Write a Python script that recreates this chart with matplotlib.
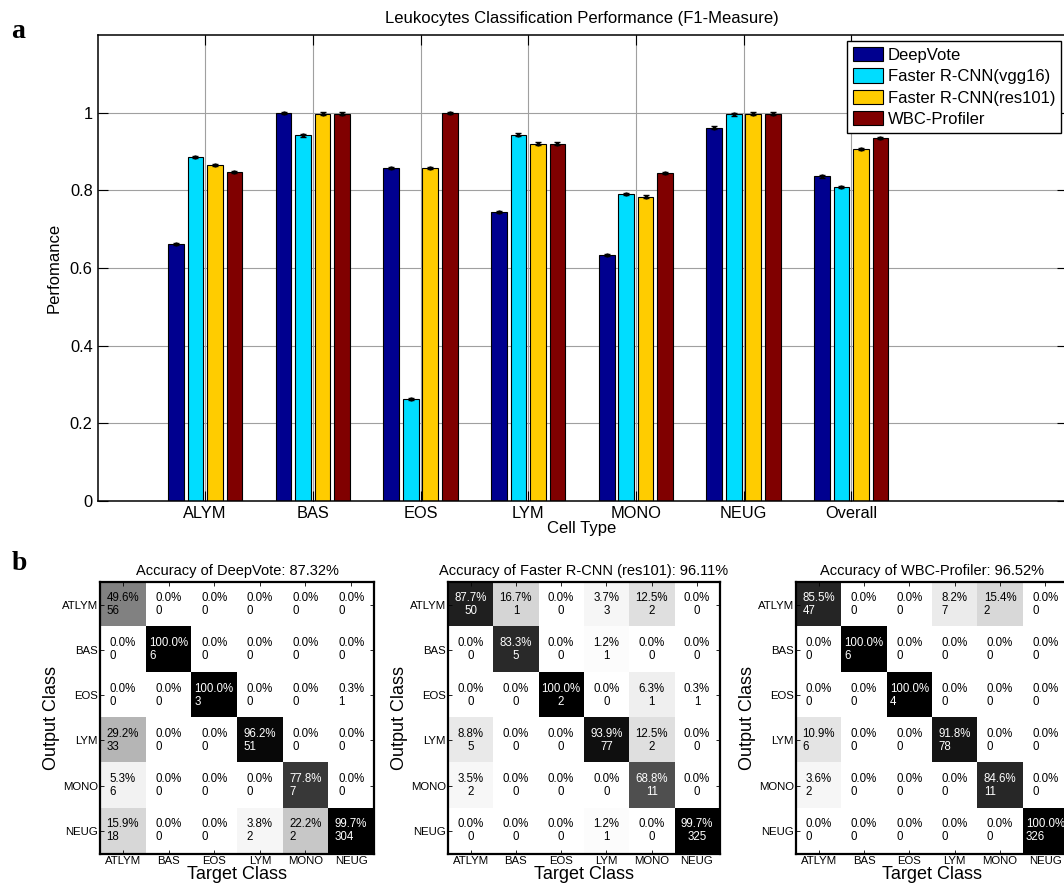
import numpy as np
import matplotlib
matplotlib.use("Agg")
import matplotlib.pyplot as plt

plt.rcParams["font.family"] = ["Liberation Sans", "DejaVu Sans"]

# ---- panel a: F1 per cell type ----
cell_types = ["ALYM", "BAS", "EOS", "LYM", "MONO", "NEUG", "Overall"]
methods = ["DeepVote", "Faster R-CNN(vgg16)", "Faster R-CNN(res101)", "WBC-Profiler"]
f1_deepvote = [0.662, 0.999, 0.857, 0.744, 0.634, 0.962, 0.836]
f1_vgg16 = [0.886, 0.942, 0.263, 0.944, 0.790, 0.996, 0.808]
f1_res101 = [0.866, 0.998, 0.857, 0.921, 0.784, 0.998, 0.907]
f1_wbc = [0.847, 0.998, 0.999, 0.921, 0.845, 0.998, 0.936]
f1_err = 0.003
colors = ["#00008F", "#00DDFF", "#FFCC00", "#800000"]

# ---- panel b: confusion matrices (rows = output, cols = target) ----
classes = ["ATLYM", "BAS", "EOS", "LYM", "MONO", "NEUG"]

dv_title = "Accuracy of DeepVote: 87.32%"
dv_pct = [[49.6, 0.0, 0.0, 0.0, 0.0, 0.0],
          [0.0, 100.0, 0.0, 0.0, 0.0, 0.0],
          [0.0, 0.0, 100.0, 0.0, 0.0, 0.3],
          [29.2, 0.0, 0.0, 96.2, 0.0, 0.0],
          [5.3, 0.0, 0.0, 0.0, 77.8, 0.0],
          [15.9, 0.0, 0.0, 3.8, 22.2, 99.7]]
dv_cnt = [[56, 0, 0, 0, 0, 0],
          [0, 6, 0, 0, 0, 0],
          [0, 0, 3, 0, 0, 1],
          [33, 0, 0, 51, 0, 0],
          [6, 0, 0, 0, 7, 0],
          [18, 0, 0, 2, 2, 304]]

frc_title = "Accuracy of Faster R-CNN (res101): 96.11%"
frc_pct = [[87.7, 16.7, 0.0, 3.7, 12.5, 0.0],
           [0.0, 83.3, 0.0, 1.2, 0.0, 0.0],
           [0.0, 0.0, 100.0, 0.0, 6.3, 0.3],
           [8.8, 0.0, 0.0, 93.9, 12.5, 0.0],
           [3.5, 0.0, 0.0, 0.0, 68.8, 0.0],
           [0.0, 0.0, 0.0, 1.2, 0.0, 99.7]]
frc_cnt = [[50, 1, 0, 3, 2, 0],
           [0, 5, 0, 1, 0, 0],
           [0, 0, 2, 0, 1, 1],
           [5, 0, 0, 77, 2, 0],
           [2, 0, 0, 0, 11, 0],
           [0, 0, 0, 1, 0, 325]]

wbc_title = "Accuracy of WBC-Profiler: 96.52%"
wbc_pct = [[85.5, 0.0, 0.0, 8.2, 15.4, 0.0],
           [0.0, 100.0, 0.0, 0.0, 0.0, 0.0],
           [0.0, 0.0, 100.0, 0.0, 0.0, 0.0],
           [10.9, 0.0, 0.0, 91.8, 0.0, 0.0],
           [3.6, 0.0, 0.0, 0.0, 84.6, 0.0],
           [0.0, 0.0, 0.0, 0.0, 0.0, 100.0]]
wbc_cnt = [[47, 0, 0, 7, 2, 0],
           [0, 6, 0, 0, 0, 0],
           [0, 0, 4, 0, 0, 0],
           [6, 0, 0, 78, 0, 0],
           [2, 0, 0, 0, 11, 0],
           [0, 0, 0, 0, 0, 326]]

W, H = 1064, 886
fig = plt.figure(figsize=(W / 100, H / 100), dpi=100)


def px_axes(x0, y0, x1, y1):
    """Axes from pixel box (top-left origin)."""
    return fig.add_axes([x0 / W, (H - y1) / H, (x1 - x0) / W, (y1 - y0) / H])


# ---------------- bar chart ----------------
ax = px_axes(97.5, 35.3, 1066.6, 500.7)
x = np.arange(1, len(cell_types) + 1)
series = [f1_deepvote, f1_vgg16, f1_res101, f1_wbc]
step, width = 0.181, 0.146
for i, (vals, name, c) in enumerate(zip(series, methods, colors)):
    xs = x + (i - 1.5) * step
    ax.bar(xs, vals, width, color=c, edgecolor="black", linewidth=0.8,
           label=name, zorder=2)
    ax.errorbar(xs, vals, yerr=f1_err, fmt=".", color="black", ms=4,
                elinewidth=1, capsize=2, zorder=3)

ax.set_xlim(0, 9)
ax.set_ylim(0, 1.2)
ax.set_xticks(x)
ax.set_xticklabels(cell_types, fontsize=11.8)
ax.set_yticks([0, 0.2, 0.4, 0.6, 0.8, 1.0])
ax.set_yticklabels(["0", "0.2", "0.4", "0.6", "0.8", "1"], fontsize=11.8)
ax.tick_params(direction="in", length=7.5, width=0.8, top=True, right=True,
               pad=3.5)
ax.grid(True, color="#a0a0a0", linewidth=0.8, zorder=0)
ax.set_axisbelow(True)
for s in ax.spines.values():
    s.set_linewidth(1.1)
ax.set_title("Leukocytes Classification Performance (F1-Measure)",
             fontsize=12, pad=9)
ax.set_xlabel("Cell Type", fontsize=12, labelpad=0)
ax.set_ylabel("Perfomance", fontsize=12, labelpad=6)
leg = ax.legend(loc="upper right", bbox_to_anchor=(0.9942, 0.9877),
                borderaxespad=0, fontsize=12, fancybox=False, framealpha=1,
                edgecolor="black", handlelength=1.85, handleheight=0.95,
                handletextpad=0.25, labelspacing=0.33, borderpad=0.35)
leg.get_frame().set_linewidth(1.0)

fig.text(11.5 / W, 1 - 38 / H, "a", fontsize=20, fontweight="bold",
         family="Liberation Serif", ha="left", va="baseline")
fig.text(11.5 / W, 1 - 570 / H, "b", fontsize=20, fontweight="bold",
         family="Liberation Serif", ha="left", va="baseline")


# ---------------- confusion matrices ----------------
def draw_confusion(box, title, pct, cnt, align):
    cax = px_axes(*box)
    pct = np.array(pct)
    cnt = np.array(cnt)
    cax.imshow(pct, cmap="gray_r", vmin=0, vmax=100, aspect="auto",
               interpolation="nearest")
    n = len(classes)
    for r in range(n):
        for c in range(n):
            tc = "white" if pct[r, c] > 60 else "black"
            cax.text(c, r, f"{pct[r, c]:.1f}%\n{cnt[r, c]}", ha="center",
                     va="center", multialignment=align, fontsize=8.3,
                     color=tc, linespacing=1.1)
    cax.set_xticks(range(n))
    cax.set_yticks(range(n))
    cax.set_xticklabels(classes, fontsize=8.2)
    cax.set_yticklabels(classes, fontsize=8.2)
    cax.tick_params(direction="in", length=3, width=0.6, top=True,
                    right=True, pad=1.5)
    for s in cax.spines.values():
        s.set_linewidth(1.6)
    cax.set_title(title, fontsize=10.5, pad=5)
    cax.set_xlabel("Target Class", fontsize=13, labelpad=0)
    cax.set_ylabel("Output Class", fontsize=13, labelpad=1)


draw_confusion((100, 582, 374, 853.5), dv_title, dv_pct, dv_cnt, "left")
draw_confusion((448, 582, 719.5, 853.5), frc_title, frc_pct, frc_cnt, "center")
draw_confusion((796, 582, 1068, 853.5), wbc_title, wbc_pct, wbc_cnt, "left")

fig.savefig("out.png", dpi=100)
